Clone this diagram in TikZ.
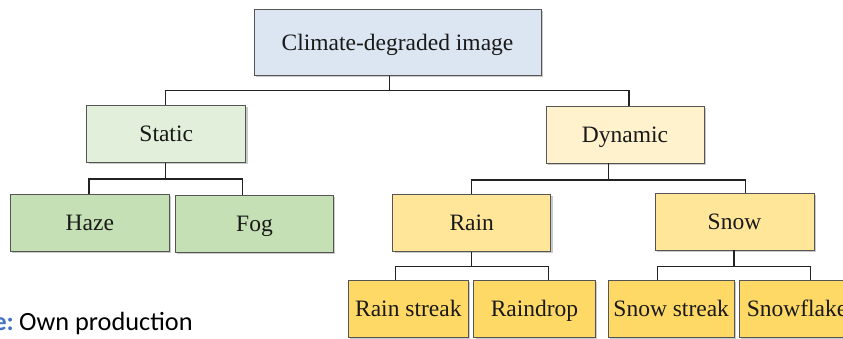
\documentclass[tikz,border=0pt]{standalone}
\usepackage{fontspec}
\setmainfont{Liberation Serif}
\newfontfamily\notefont{Carlito}
\usetikzlibrary{shadows}

\definecolor{topfill}{HTML}{DCE6F2}
\definecolor{staticfill}{HTML}{E2EFDA}
\definecolor{hazefill}{HTML}{C5E0B4}
\definecolor{dynfill}{HTML}{FFF2CC}
\definecolor{midfill}{HTML}{FFE699}
\definecolor{leaffill}{HTML}{FFD966}
\definecolor{boxline}{HTML}{555555}
\definecolor{linkline}{HTML}{222222}
\definecolor{noteblue}{HTML}{4472C4}

\tikzset{
  box/.style={draw=boxline, line width=0.9pt, inner sep=0pt,
    minimum height=57pt, text=black!90,
    text height=15.6pt, text depth=0pt,
    font=\fontsize{23.5}{28}\selectfont,
    drop shadow={shadow xshift=1.8pt, shadow yshift=-1.8pt, opacity=0.35, fill=black!60}},
  link/.style={draw=linkline, line width=1.2pt}
}

\begin{document}
\begin{tikzpicture}[x=1pt,y=-1pt]
  \useasboundingbox (0,0) rectangle (843,338);
  \clip (0,0) rectangle (843,338);

  % tree nodes
  \node[box, fill=topfill, minimum width=287pt, minimum height=66pt] (top) at (397.5,42.2) {Climate-degraded image};
  \node[box, fill=staticfill, minimum width=159pt] (static) at (166.2,134) {Static};
  \node[box, fill=dynfill, minimum width=158pt] (dynamic) at (625,134.5) {Dynamic};
  \node[box, fill=hazefill, minimum width=159pt] (haze) at (89.8,222.5) {Haze};
  \node[box, fill=hazefill, minimum width=158pt] (fog) at (254.5,223.5) {Fog};
  \node[box, fill=midfill, minimum width=158pt] (rain) at (471.7,222.8) {Rain};
  \node[box, fill=midfill, minimum width=159pt] (snow) at (734.5,221.5) {Snow};
  \node[box, fill=leaffill, minimum width=120pt] (rstreak) at (408.3,308.5) {Rain streak};
  \node[box, fill=leaffill, minimum width=121.6pt] (rdrop) at (534.5,308.5) {Raindrop};
  \node[box, fill=leaffill, minimum width=126.3pt] (sstreak) at (671.2,308.5) {Snow streak};
  \node[box, fill=leaffill, minimum width=116pt] (sflake) at (797,308.5) {Snowflake};

  % junction points of the connectors
  \coordinate (j0) at (389.7,90.7);
  \coordinate (j1) at (165.3,179);
  \coordinate (j2) at (608.7,180);
  \coordinate (j3) at (471.7,266.7);
  \coordinate (j4) at (734,266.7);

  % connectors
  \draw[link] (top.south -| j0) -- (j0);
  \draw[link] ([xshift=-1pt]static.north) -- ([xshift=-1pt]static.north |- j0)
    -- ([xshift=4pt]dynamic.north |- j0) -- ([xshift=4pt]dynamic.north);

  \draw[link] (static.south -| j1) -- (j1);
  \draw[link] ([xshift=-0.8pt]haze.north) -- ([xshift=-0.8pt]haze.north |- j1)
    -- ([xshift=-12.2pt]fog.north |- j1) -- ([xshift=-12.2pt]fog.north);

  \draw[link] (dynamic.south -| j2) -- (j2);
  \draw[link] (rain.north) -- (rain.north |- j2)
    -- ([xshift=11.2pt]snow.north |- j2) -- ([xshift=11.2pt]snow.north);

  \draw[link] (rain.south) -- (j3);
  \draw[link] ([xshift=-12.6pt]rstreak.north) -- ([xshift=-12.6pt]rstreak.north |- j3)
    -- ([xshift=13.8pt]rdrop.north |- j3) -- ([xshift=13.8pt]rdrop.north);

  \draw[link] (snow.south -| j4) -- (j4);
  \draw[link] ([xshift=-13.5pt]sstreak.north) -- ([xshift=-13.5pt]sstreak.north |- j4)
    -- ([xshift=13.7pt]sflake.north |- j4) -- ([xshift=13.7pt]sflake.north);

  % source note
  \node[anchor=base east, inner sep=0pt, font=\notefont\bfseries\fontsize{26}{30}\selectfont, text=noteblue] (srclabel) at (14,330) {e:};
  \node[anchor=base west, inner sep=0pt, font=\notefont\fontsize{26.3}{30}\selectfont, text=black] (srctext) at (19,330) {Own production};
\end{tikzpicture}
\end{document}
